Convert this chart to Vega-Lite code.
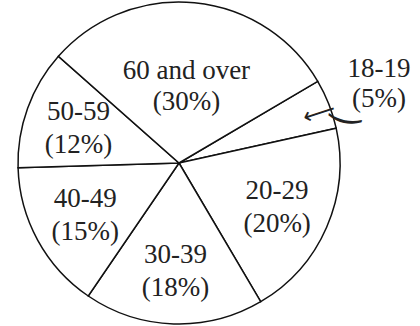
{
  "$schema": "https://vega.github.io/schema/vega-lite/v6.json",
  "width": 358,
  "height": 326,
  "padding": {"left": 0, "top": 0, "right": 62, "bottom": 0},
  "autosize": {"type": "none"},
  "background": "white",
  "config": {"view": {"stroke": null}},
  "data": {
    "values": [
      {"group": "18-19", "pct": 5, "label": "18-19\n(5%)"},
      {"group": "20-29", "pct": 20, "label": "20-29\n(20%)"},
      {"group": "30-39", "pct": 18, "label": "30-39\n(18%)"},
      {"group": "40-49", "pct": 15, "label": "40-49\n(15%)"},
      {"group": "50-59", "pct": 12, "label": "50-59\n(12%)"},
      {"group": "60 and over", "pct": 30, "label": "60 and over\n(30%)"}
    ]
  },
  "encoding": {
    "theta": {"field": "pct", "type": "quantitative", "stack": true, "scale": {"range": [1.0385, 7.3217]}}
  },
  "layer": [
    {
      "mark": {"type": "arc", "outerRadius": 161, "fill": "white", "stroke": "#111", "strokeWidth": 1.5}
    },
    {
      "mark": {"type": "text", "radius": 107, "dy": -15, "font": "Liberation Serif", "fontSize": 27, "lineBreak": "\n", "lineHeight": 33, "fill": "#222", "align": "center", "baseline": "middle"},
      "encoding": {
        "text": {"condition": {"test": "datum.group !== '60 and over' && datum.group !== '18-19'", "field": "label"}, "value": ""}
      }
    },
    {
      "mark": {"type": "text", "radius": 77, "dy": -15, "font": "Liberation Serif", "fontSize": 27, "lineBreak": "\n", "lineHeight": 31, "fill": "#222", "align": "center", "baseline": "middle"},
      "encoding": {
        "text": {"condition": {"test": "datum.group === '60 and over'", "field": "label"}, "value": ""}
      }
    },
    {
      "mark": {"type": "text", "radius": 215, "dy": -15, "font": "Liberation Serif", "fontSize": 27, "lineBreak": "\n", "lineHeight": 30, "fill": "#222", "align": "center", "baseline": "middle"},
      "encoding": {
        "text": {"condition": {"test": "datum.group === '18-19'", "field": "label"}, "value": ""}
      }
    },
    {
      "mark": {"type": "text", "radius": 149, "dy": 5, "font": "DejaVu Sans", "fontSize": 23, "angle": -18, "fill": "#222", "align": "center", "baseline": "middle"},
      "encoding": {
        "text": {"condition": {"test": "datum.group === '18-19'", "value": "⟵"}, "value": ""}
      }
    },
    {
      "mark": {"type": "text", "radius": 180, "dx": 3, "dy": 6, "font": "DejaVu Sans", "fontSize": 38, "angle": 12, "fill": "#222", "align": "center", "baseline": "middle"},
      "encoding": {
        "text": {"condition": {"test": "datum.group === '18-19'", "value": "‿"}, "value": ""}
      }
    }
  ]
}
